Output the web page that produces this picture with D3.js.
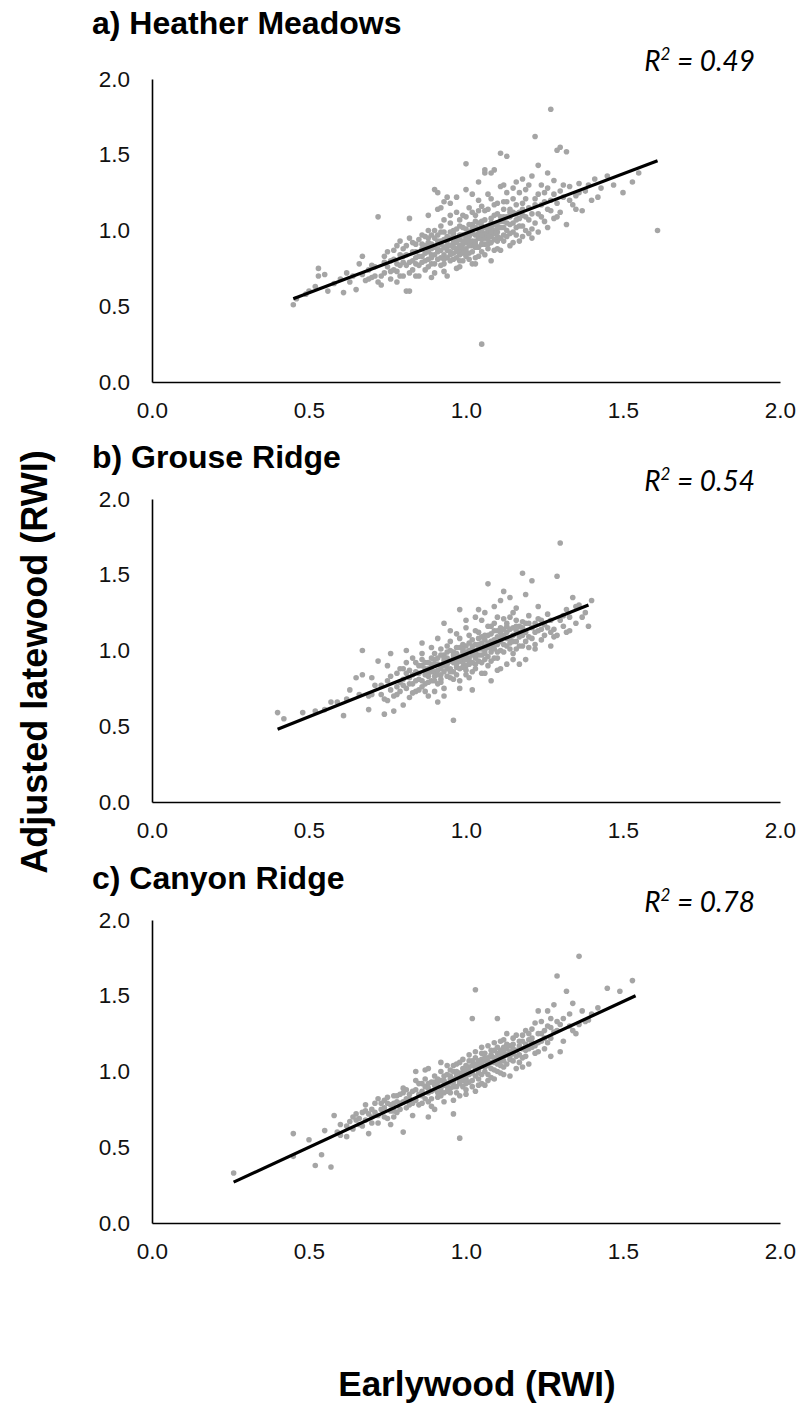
<!DOCTYPE html>
<html>
<head>
<meta charset="utf-8">
<script src="https://cdn.jsdelivr.net/npm/d3@7"></script>
<style>
  body { margin: 0; background: #fff; }
  svg text { font-family: "Liberation Sans", Arial, sans-serif; }
</style>
</head>
<body>
<div id="chart"></div>
<script>
"use strict";

// panel titles and fit statistics
const TITLES = ["a) Heather Meadows", "b) Grouse Ridge", "c) Canyon Ridge"];
const R2 = ["0.49", "0.54", "0.78"];
const TICKS = [0, 0.5, 1.0, 1.5, 2.0];

/* earlywood vs adjusted latewood, one [x, y] per tree-year */
const heatherMeadows = [
  [0.45,0.51],[0.46,0.55],[0.52,0.63],[0.53,0.70],[0.53,0.75],[0.56,0.60],[0.61,0.59],[0.62,0.72],[0.65,0.61],[0.66,0.78],
  [0.67,0.83],[0.67,0.71],[0.69,0.74],[0.70,0.69],[0.71,0.70],[0.72,0.66],[0.72,1.09],[0.73,0.64],[0.74,0.79],[0.75,0.76],
  [0.75,0.86],[0.76,0.68],[0.77,0.81],[0.78,0.73],[0.78,0.90],[0.79,0.77],[0.79,0.84],[0.80,0.70],[0.80,0.88],[0.81,0.60],
  [0.82,1.08],[0.82,0.79],[0.82,0.95],[0.83,0.74],[0.83,0.86],[0.84,0.82],[0.84,0.91],[0.85,0.77],[0.85,0.70],[0.86,0.88],
  [0.86,0.97],[0.86,0.83],[0.87,0.80],[0.87,0.74],[0.88,0.92],[0.88,0.86],[0.88,1.00],[0.89,0.78],[0.89,0.84],[0.90,0.95],
  [0.90,0.89],[0.90,0.72],[0.91,1.14],[0.91,0.81],[0.91,1.25],[0.92,0.87],[0.92,0.93],[0.92,1.03],[0.93,0.78],[0.93,0.99],
  [0.93,0.84],[0.94,0.90],[0.94,1.22],[0.94,0.70],[0.95,0.95],[0.95,0.86],[0.95,1.05],[0.96,0.81],[0.96,0.92],[0.96,1.00],
  [0.97,0.88],[0.97,1.12],[0.97,0.75],[0.98,0.97],[0.98,0.84],[0.98,1.07],[0.99,0.91],[0.99,1.02],[0.99,0.80],[1.00,0.95],
  [1.00,1.27],[1.00,0.88],[1.00,1.09],[1.01,0.99],[1.01,0.85],[1.01,1.15],[1.02,0.93],[1.02,1.04],[1.02,0.78],[1.03,0.97],
  [1.03,1.10],[1.03,0.89],[1.04,1.01],[1.04,0.83],[1.04,1.20],[1.05,0.25],[1.05,0.94],[1.05,1.06],[1.05,0.86],[1.06,1.13],
  [1.06,0.98],[1.06,1.38],[1.07,0.91],[1.07,1.03],[1.07,1.24],[1.08,1.08],[1.08,0.96],[1.08,0.80],[1.09,1.40],[1.09,1.00],
  [1.09,1.17],[1.10,0.93],[1.10,1.11],[1.10,1.05],[1.11,0.87],[1.11,1.29],[1.11,1.51],[1.12,1.02],[1.12,1.19],[1.12,0.97],
  [1.13,1.09],[1.13,1.49],[1.13,1.25],[1.14,1.04],[1.14,0.90],[1.14,1.14],[1.15,1.21],[1.15,0.99],[1.16,1.07],[1.16,1.32],
  [1.17,0.93],[1.17,1.12],[1.18,1.18],[1.18,1.03],[1.19,1.27],[1.19,1.09],[1.20,0.98],[1.20,1.15],[1.21,1.01],[1.21,1.36],
  [1.22,1.62],[1.22,1.21],[1.23,0.99],[1.23,1.11],[1.24,1.30],[1.24,1.17],[1.25,1.06],[1.25,1.25],[1.26,1.14],[1.27,1.80],
  [1.27,1.20],[1.28,1.08],[1.28,1.33],[1.29,1.53],[1.29,1.18],[1.30,1.26],[1.30,1.12],[1.31,1.22],[1.32,1.52],[1.32,1.04],
  [1.33,1.29],[1.34,1.17],[1.35,1.23],[1.36,1.31],[1.37,1.13],[1.38,1.26],[1.40,1.20],[1.41,1.34],[1.43,1.28],[1.45,1.36],
  [1.47,1.30],[1.50,1.25],[1.53,1.32],[1.55,1.38],[1.61,1.00],
  [0.88,0.95],[0.89,0.91],[0.91,0.97],[0.92,0.82],[0.93,0.94],[0.94,0.87],[0.95,0.99],[0.96,0.89],[0.97,0.95],[0.98,0.90],
  [0.99,0.97],[1.00,0.92],[1.01,0.96],[1.02,0.90],[1.03,1.02],[1.04,0.95],[1.05,1.00],[1.06,0.91],[1.07,0.97],[1.08,1.02],
  [1.09,0.94],[1.10,0.99],[1.11,1.06],[1.12,0.93],[1.13,1.00],[1.15,1.05],[1.16,0.97],[1.17,1.03],[1.18,1.10],[1.19,1.00],
  [0.85,0.94],[0.84,0.86],[0.83,0.80],[0.81,0.84],[0.80,0.79],[0.77,0.74],[0.76,0.80],[0.74,0.72],[0.70,0.77],[0.68,0.67],
  [0.90,1.27],[0.93,1.19],[1.00,1.44],[1.06,1.40],[1.08,1.38],[1.30,1.55],[0.82,0.60],
  [0.84,0.78],[0.85,0.83],[0.86,0.79],[0.87,0.90],[0.87,0.85],[0.88,0.81],[0.88,0.76],[0.89,0.88],[0.89,0.97],[0.90,0.84],
  [0.90,0.78],[0.91,0.88],[0.91,0.93],[0.92,0.77],[0.92,0.99],[0.93,0.89],[0.93,1.07],[0.94,0.82],[0.94,0.96],[0.95,0.90],
  [0.95,0.80],[0.95,1.10],[0.96,0.85],[0.96,0.96],[0.97,0.92],[0.97,0.82],[0.97,1.01],[0.98,0.87],[0.98,1.03],[0.98,0.94],
  [0.99,0.85],[0.99,1.10],[0.99,0.88],[1.00,1.01],[1.00,0.83],[1.00,0.97],[1.01,0.90],[1.01,1.04],[1.01,0.81],[1.02,0.98],
  [1.02,1.12],[1.02,0.86],[1.03,0.93],[1.03,1.06],[1.03,0.82],[1.04,0.98],[1.04,1.13],[1.04,0.89],[1.05,1.03],[1.05,0.91],
  [1.05,1.16],[1.06,0.95],[1.06,1.07],[1.06,0.84],[1.07,1.00],[1.07,1.14],[1.07,0.88],[1.08,1.05],[1.08,0.92],[1.08,1.21],
  [1.09,0.98],[1.09,1.10],[1.09,0.87],[1.10,1.02],[1.10,1.18],[1.11,0.95],[1.11,1.09],[1.12,1.06],[1.12,1.14],[1.13,0.96],
  [1.13,1.19],[1.14,1.09],[1.14,0.98],[1.15,1.12],[1.15,1.28],[1.16,1.02],[1.16,1.17],[1.17,1.08],[1.17,1.25],[1.18,0.96],
  [1.18,1.14],[1.19,1.21],[1.20,1.07],[1.20,1.30],[1.21,1.11],[1.22,1.05],[1.22,1.17],[1.23,1.24],[1.24,1.09],[1.25,1.19],
  [1.26,1.28],[1.27,1.13],[1.28,1.24],[1.29,1.09],[1.31,1.30],[1.33,1.20],[1.35,1.14],[1.36,1.25],[1.39,1.30],[1.42,1.22],
  [0.76,0.73],[0.77,0.87],[0.78,0.78],[0.79,0.70],[0.80,0.83],[0.81,0.77],[0.81,0.90],[0.82,0.72],[0.83,0.92],[0.78,0.66],
  [0.74,0.83],[0.73,0.70],[0.71,0.76],[0.69,0.68],[0.64,0.70],[0.63,0.66],[0.58,0.65],[0.60,0.68],[0.55,0.71],[0.50,0.60],
  [0.49,0.58],
  [0.86,0.91],[0.87,0.96],[0.88,0.89],[0.89,0.82],[0.90,1.00],[0.91,0.86],[0.92,0.91],[0.93,0.81],[0.94,0.93],[0.95,0.84],
  [0.96,0.98],[0.97,0.86],[0.98,0.80],[0.99,0.93],[1.00,0.86],[1.01,0.93],[1.02,1.01],[1.03,0.91],[1.04,1.05],[1.05,0.97],
  [1.06,1.02],[1.07,0.94],[1.08,0.99],[1.09,1.04],[1.10,0.96],[1.11,1.02],[1.12,1.09],[1.13,1.05],[1.14,1.12],[1.16,1.11],
  [0.92,1.15],[0.95,1.18],[0.88,1.10],[0.97,1.22],[1.02,1.24],[1.04,1.32],[1.12,1.30],[1.18,1.34],[1.23,1.43],[1.26,1.38],
  [0.79,0.93],[0.84,0.70],[0.89,0.69],[0.93,0.73],[0.98,0.76],[1.03,0.78],[1.10,0.88],[1.15,0.92],[1.21,0.95],[1.26,1.02]
];

const grouseRidge = [
  [0.40,0.59],[0.42,0.55],[0.57,0.66],[0.59,0.66],[0.61,0.57],[0.65,0.82],[0.67,0.84],[0.67,1.00],[0.69,0.61],[0.70,0.71],
  [0.72,0.93],[0.73,0.77],[0.74,0.58],[0.74,0.68],[0.75,0.80],[0.76,0.98],[0.76,0.74],[0.77,0.60],[0.78,0.85],[0.78,0.71],
  [0.79,0.79],[0.80,0.64],[0.80,0.88],[0.81,0.75],[0.81,0.92],[0.82,0.82],[0.82,0.69],[0.83,0.95],[0.83,0.78],[0.84,0.86],
  [0.84,0.73],[0.85,0.90],[0.85,0.81],[0.86,0.76],[0.86,0.98],[0.87,0.84],[0.87,0.92],[0.88,0.70],[0.88,0.88],[0.89,0.80],
  [0.89,1.02],[0.90,0.86],[0.90,0.94],[0.91,0.66],[0.91,0.78],[0.91,1.08],[0.92,0.90],[0.92,0.84],[0.93,0.97],[0.93,1.18],
  [0.93,0.75],[0.94,0.88],[0.94,1.03],[0.95,0.82],[0.95,0.93],[0.96,0.54],[0.96,0.99],[0.96,0.86],[0.97,1.11],[0.97,0.91],
  [0.98,0.80],[0.98,0.96],[0.98,1.27],[0.99,1.04],[0.99,0.89],[1.00,0.94],[1.00,1.15],[1.00,0.84],[1.01,1.00],[1.01,0.91],
  [1.02,0.74],[1.02,1.07],[1.02,0.97],[1.03,0.88],[1.03,1.13],[1.04,1.27],[1.04,1.01],[1.04,0.93],[1.05,1.20],[1.05,0.85],
  [1.05,1.05],[1.06,0.98],[1.06,1.10],[1.07,1.44],[1.07,0.90],[1.08,1.02],[1.08,0.80],[1.08,1.16],[1.09,0.95],[1.09,1.07],
  [1.10,1.22],[1.10,0.99],[1.11,1.12],[1.11,0.88],[1.12,1.39],[1.12,1.04],[1.13,0.91],[1.13,1.18],[1.14,1.35],[1.14,1.08],
  [1.15,0.98],[1.15,1.25],[1.16,1.13],[1.17,0.91],[1.17,1.03],[1.18,1.51],[1.18,1.19],[1.19,0.94],[1.19,1.37],[1.20,1.09],
  [1.21,1.46],[1.21,1.15],[1.22,1.01],[1.23,1.29],[1.23,1.21],[1.24,1.07],[1.25,1.17],[1.26,1.24],[1.27,1.12],[1.28,1.09],
  [1.29,1.49],[1.29,1.10],[1.30,1.71],[1.30,1.20],[1.31,1.16],[1.32,1.27],[1.33,1.22],[1.34,1.35],[1.35,1.18],[1.36,1.30],
  [1.38,1.25],[1.39,1.16],[1.40,1.33],
  [0.86,0.90],[0.88,0.83],[0.89,0.95],[0.90,0.80],[0.91,0.91],[0.92,0.97],[0.93,0.86],[0.94,0.95],[0.95,1.00],[0.96,0.92],
  [0.97,0.98],[0.97,0.84],[0.98,1.02],[0.99,0.95],[1.00,0.99],[1.00,0.90],[1.01,1.05],[1.02,0.92],[1.03,1.00],[1.03,0.95],
  [1.04,1.08],[1.05,0.97],[1.06,1.03],[1.07,0.96],[1.07,1.10],[1.08,0.99],[1.09,1.13],[1.10,1.04],[1.11,1.00],[1.12,1.10],
  [1.13,1.03],[1.14,1.14],[1.15,1.06],[1.16,1.01],[1.17,1.16],[1.18,1.10],[1.19,1.06],[1.20,1.18],[1.22,1.12],[1.24,1.14],
  [0.78,0.76],[0.79,0.88],[0.80,0.81],[0.82,0.87],[0.83,0.72],[0.84,0.80],[0.85,0.74],[0.87,0.78],[0.90,0.73],[0.92,0.79],
  [0.84,0.92],[0.85,0.85],[0.86,0.80],[0.86,0.94],[0.87,0.88],[0.87,0.73],[0.88,0.92],[0.88,0.79],[0.89,0.86],[0.89,0.91],
  [0.90,0.98],[0.90,0.83],[0.91,0.87],[0.91,0.95],[0.92,0.81],[0.92,1.01],[0.93,0.90],[0.93,0.93],[0.94,0.83],[0.94,0.99],
  [0.95,0.88],[0.95,1.06],[0.96,0.95],[0.96,0.81],[0.97,0.94],[0.97,1.02],[0.98,0.88],[0.98,1.08],[0.99,0.92],[0.99,0.99],
  [1.00,1.03],[1.00,0.87],[1.01,0.95],[1.01,1.10],[1.02,1.01],[1.02,0.86],[1.03,1.04],[1.03,0.91],[1.04,0.97],[1.04,1.12],
  [1.05,1.01],[1.05,0.92],[1.06,1.07],[1.06,0.94],[1.07,1.02],[1.07,1.16],[1.08,1.06],[1.08,0.93],[1.09,1.01],[1.09,1.18],
  [1.10,1.09],[1.10,0.95],[1.11,1.06],[1.11,1.15],[1.12,0.99],[1.12,1.21],[1.13,1.08],[1.13,1.12],[1.14,1.01],[1.14,1.22],
  [1.15,1.10],[1.15,1.15],[1.16,1.06],[1.16,1.20],[1.17,1.09],[1.18,1.03],[1.18,1.15],[1.19,1.12],[1.20,1.02],[1.20,1.23],
  [1.21,1.08],[1.22,1.18],[1.23,1.13],[1.24,1.20],[1.25,1.10],[1.26,1.15],[1.27,1.20],[1.28,1.14],[1.31,1.23],[1.33,1.13],
  [1.35,1.29],[1.37,1.22],
  [0.76,0.83],[0.77,0.70],[0.79,0.73],[0.80,0.77],[0.81,0.85],[0.82,0.78],[0.83,0.84],[0.71,0.77],[0.69,0.70],[0.66,0.71],
  [0.63,0.74],[0.62,0.68],[0.55,0.61],[0.52,0.60],[0.48,0.59],[0.73,0.71],[0.75,0.67],
  [0.88,0.85],[0.89,0.89],[0.90,0.91],[0.91,0.84],[0.92,0.88],[0.93,0.95],[0.94,0.91],[0.95,0.86],[0.96,0.97],[0.97,0.89],
  [0.98,0.93],[0.99,1.01],[1.00,0.96],[1.01,0.93],[1.02,1.03],[1.03,0.98],[1.04,1.04],[1.05,1.09],[1.06,1.00],[1.07,1.05],
  [1.08,1.11],[1.09,1.04],[1.10,1.13],[1.11,1.09],[1.12,1.14],[1.13,1.16],[1.14,1.05],[1.16,1.16],[1.17,1.12],[1.19,1.18],
  [0.95,1.13],[1.00,1.20],[1.03,1.22],[1.06,1.25],[1.09,1.29],[1.11,1.33],[1.16,1.28],[0.93,0.70],[0.98,0.75],[1.01,0.82],
  [1.06,0.85],[1.10,0.87],[1.15,0.94],[1.22,1.04],[1.27,1.03],[1.32,1.12],[0.70,0.82],[0.75,0.90],[0.81,1.00],[0.86,1.05]
];

const canyonRidge = [
  [0.26,0.33],[0.45,0.44],[0.45,0.59],[0.52,0.38],[0.54,0.45],[0.57,0.37],[0.58,0.71],[0.59,0.60],[0.62,0.57],[0.63,0.67],
  [0.64,0.62],[0.65,0.72],[0.66,0.69],[0.67,0.64],[0.68,0.74],[0.69,0.59],[0.70,0.70],[0.71,0.79],[0.72,0.66],[0.73,0.75],
  [0.74,0.81],[0.75,0.69],[0.76,0.65],[0.76,0.78],[0.77,0.84],[0.78,0.73],[0.79,0.79],[0.80,0.60],[0.80,0.86],[0.81,0.76],
  [0.82,0.82],[0.83,0.71],[0.84,1.00],[0.84,0.88],[0.85,0.78],[0.86,0.84],[0.87,1.01],[0.87,0.90],[0.88,0.80],[0.88,0.70],
  [0.89,0.87],[0.90,0.93],[0.90,0.75],[0.91,0.83],[0.92,0.89],[0.93,0.97],[0.93,0.80],[0.94,0.92],[0.95,0.86],[0.95,1.01],
  [0.96,0.95],[0.96,0.72],[0.97,0.90],[0.97,1.05],[0.98,0.56],[0.98,0.99],[0.98,0.84],[0.99,0.94],[0.99,1.08],[1.00,0.98],
  [1.00,0.88],[1.01,1.03],[1.01,0.93],[1.02,1.35],[1.02,0.99],[1.03,1.54],[1.03,1.09],[1.03,0.87],[1.04,1.01],[1.04,0.95],
  [1.05,1.12],[1.05,1.04],[1.06,0.91],[1.06,1.07],[1.07,1.17],[1.07,0.98],[1.08,1.02],[1.08,1.10],[1.09,0.95],[1.09,1.14],
  [1.10,1.35],[1.10,1.05],[1.11,1.20],[1.11,0.99],[1.12,1.10],[1.12,1.03],[1.13,1.15],[1.14,0.97],[1.14,1.08],[1.15,1.22],
  [1.15,1.12],[1.16,1.02],[1.17,1.17],[1.18,1.09],[1.18,1.24],[1.19,1.14],[1.20,1.05],[1.20,1.21],[1.21,1.28],[1.22,1.12],
  [1.23,1.40],[1.23,1.19],[1.24,1.25],[1.25,1.15],[1.26,1.40],[1.26,1.30],[1.27,1.10],[1.27,1.22],[1.28,1.44],[1.29,1.27],
  [1.29,1.63],[1.30,1.13],[1.31,1.35],[1.32,1.53],[1.33,1.30],[1.34,1.45],[1.35,1.25],[1.36,1.76],[1.36,1.31],[1.39,1.34],
  [1.45,1.55],[1.49,1.53],[1.53,1.60],
  [0.88,0.92],[0.89,0.82],[0.91,0.90],[0.92,0.94],[0.93,0.86],[0.94,0.98],[0.95,0.93],[0.96,1.00],[0.97,0.96],[0.98,0.92],
  [0.99,1.02],[1.00,0.95],[1.01,1.07],[1.02,0.94],[1.03,1.02],[1.04,1.07],[1.05,0.98],[1.06,1.03],[1.07,1.09],[1.08,0.96],
  [1.09,1.06],[1.10,1.12],[1.11,1.07],[1.12,1.16],[1.13,1.05],[1.14,1.13],[1.16,1.10],[1.17,1.06],[1.19,1.18],[1.21,1.16],
  [0.70,0.75],[0.72,0.71],[0.74,0.76],[0.75,0.79],[0.77,0.74],[0.78,0.80],[0.79,0.85],[0.81,0.82],[0.82,0.78],[0.83,0.87],
  [0.85,0.85],[0.86,0.79],[0.86,0.92],
  [0.84,0.81],[0.85,0.92],[0.86,0.87],[0.87,0.82],[0.87,0.95],[0.88,0.86],[0.89,0.93],[0.89,0.77],[0.90,0.88],[0.90,0.97],
  [0.91,0.86],[0.91,0.95],[0.92,0.84],[0.92,1.00],[0.93,0.91],[0.94,0.87],[0.94,1.04],[0.95,0.97],[0.95,0.89],[0.96,1.04],
  [0.96,0.90],[0.97,1.00],[0.97,0.86],[0.98,0.96],[0.98,1.06],[0.99,0.90],[0.99,0.99],[1.00,1.04],[1.00,0.92],[1.01,0.98],
  [1.01,1.11],[1.02,1.04],[1.02,0.90],[1.03,0.97],[1.03,1.13],[1.04,1.04],[1.04,0.91],[1.05,1.08],[1.05,1.16],[1.06,1.00],
  [1.06,1.12],[1.07,1.04],[1.07,0.94],[1.08,1.14],[1.08,1.06],[1.09,1.01],[1.09,1.19],[1.10,1.09],[1.10,1.00],[1.11,1.14],
  [1.11,1.04],[1.12,1.21],[1.12,1.07],[1.13,1.11],[1.13,1.25],[1.14,1.17],[1.15,1.07],[1.15,1.18],[1.16,1.14],[1.16,1.24],
  [1.17,1.11],[1.18,1.20],[1.19,1.10],[1.19,1.27],[1.20,1.15],[1.21,1.22],[1.22,1.17],[1.22,1.32],[1.23,1.13],[1.24,1.20],
  [1.24,1.33],[1.25,1.27],[1.26,1.19],[1.27,1.35],[1.28,1.26],[1.30,1.31],[1.31,1.20],[1.33,1.38],[1.34,1.27],[1.37,1.40],
  [1.38,1.33],[1.40,1.38],[1.42,1.42],
  [0.62,0.64],[0.64,0.70],[0.66,0.65],[0.67,0.73],[0.69,0.72],[0.70,0.66],[0.71,0.73],[0.73,0.79],[0.74,0.70],[0.76,0.74],
  [0.77,0.79],[0.78,0.84],[0.79,0.75],[0.80,0.80],[0.81,0.88],[0.82,0.85],[0.83,0.79],[0.55,0.61],[0.60,0.65],[0.68,0.68],
  [0.50,0.55],
  [0.88,0.89],[0.90,0.91],[0.91,0.93],[0.92,0.87],[0.93,0.94],[0.94,0.90],[0.95,0.95],[0.96,0.93],[0.97,0.98],[0.98,0.94],
  [0.99,0.97],[1.00,1.01],[1.01,1.00],[1.02,1.07],[1.03,1.05],[1.04,0.99],[1.05,1.06],[1.06,1.09],[1.07,1.06],[1.08,1.11],
  [1.09,1.09],[1.10,1.16],[1.11,1.11],[1.12,1.13],[1.13,1.18],[1.14,1.10],[1.15,1.15],[1.17,1.20],[1.18,1.15],[1.20,1.25],
  [1.21,1.19],[1.23,1.25],[1.25,1.22],[1.27,1.29],[1.29,1.33],[0.75,0.83],[0.80,0.89],[0.84,0.94],[0.88,1.02],[0.92,1.06],
  [0.96,0.81],[1.00,0.85],[1.05,0.92],[1.12,0.98],[1.18,1.03],[0.72,0.82],[0.77,0.70],[0.68,0.78],[0.65,0.68],[0.60,0.58]
];

// fitted line end points [x, y]
const trendA = [[0.45, 0.55], [1.61, 1.46]];
const trendB = [[0.40, 0.48], [1.39, 1.30]];
const trendC = [[0.26, 0.27], [1.54, 1.50]];

const panels = [
  { title: TITLES[0], r2: R2[0], points: heatherMeadows, trend: trendA, top: 79, titleY: 34 },
  { title: TITLES[1], r2: R2[1], points: grouseRidge, trend: trendB, top: 499, titleY: 468 },
  { title: TITLES[2], r2: R2[2], points: canyonRidge, trend: trendC, top: 920, titleY: 889 }
];

const width = 798, height = 1416;
const svg = d3.select("#chart").append("svg")
  .attr("width", width)
  .attr("height", height);

const x = d3.scaleLinear().domain([0, 2]).range([152, 780]);
const fmt = d3.format(".1f");

panels.forEach(function (p) {
  const top = p.top;
  const y = d3.scaleLinear().domain([0, 2]).range([top + 303, top]);
  const g = svg.append("g");

  g.append("text")
    .attr("x", 92)
    .attr("y", p.titleY)
    .attr("font-size", 32)
    .attr("font-weight", "bold")
    .text(p.title);

  const r2 = g.append("text")
    .attr("x", 755)
    .attr("y", top - 8)
    .attr("text-anchor", "end")
    .attr("font-size", 28)
    .attr("font-style", "italic")
    .style("font-family", "Lato, 'Open Sans', sans-serif");
  r2.append("tspan").text("R");
  r2.append("tspan").attr("font-size", 17).attr("dy", -11).text("2");
  r2.append("tspan").attr("dy", 11).text(" = " + p.r2);

  const yAxis = g.append("g")
    .attr("transform", `translate(${x(0)},0)`)
    .call(d3.axisLeft(y).tickValues(TICKS).tickFormat(fmt).tickSize(0).tickPadding(22));
  const xAxis = g.append("g")
    .attr("transform", `translate(0,${y(0)})`)
    .call(d3.axisBottom(x).tickValues(TICKS).tickFormat(fmt).tickSize(0).tickPadding(20));

  [yAxis, xAxis].forEach(function (ax) {
    ax.select(".domain").attr("stroke", "#000").attr("stroke-width", 1.6);
    ax.selectAll("text")
      .attr("font-size", 22.5)
      .attr("fill", "#111")
      .style("font-family", "'Liberation Sans', Arial, sans-serif");
  });

  g.selectAll("circle")
    .data(p.points)
    .enter()
    .append("circle")
    .attr("cx", d => x(d[0]))
    .attr("cy", d => y(d[1]))
    .attr("r", 2.8)
    .attr("fill", "#a5a5a5");

  g.append("line")
    .attr("x1", x(p.trend[0][0]))
    .attr("y1", y(p.trend[0][1]))
    .attr("x2", x(p.trend[1][0]))
    .attr("y2", y(p.trend[1][1]))
    .attr("stroke", "#000")
    .attr("stroke-width", 3.2);
});

svg.append("text")
  .attr("transform", "translate(47,662) rotate(-90)")
  .attr("text-anchor", "middle")
  .attr("font-size", 36)
  .attr("font-weight", "bold")
  .text("Adjusted latewood (RWI)");

svg.append("text")
  .attr("x", 477)
  .attr("y", 1396)
  .attr("text-anchor", "middle")
  .attr("font-size", 35)
  .attr("font-weight", "bold")
  .text("Earlywood (RWI)");
</script>
</body>
</html>
